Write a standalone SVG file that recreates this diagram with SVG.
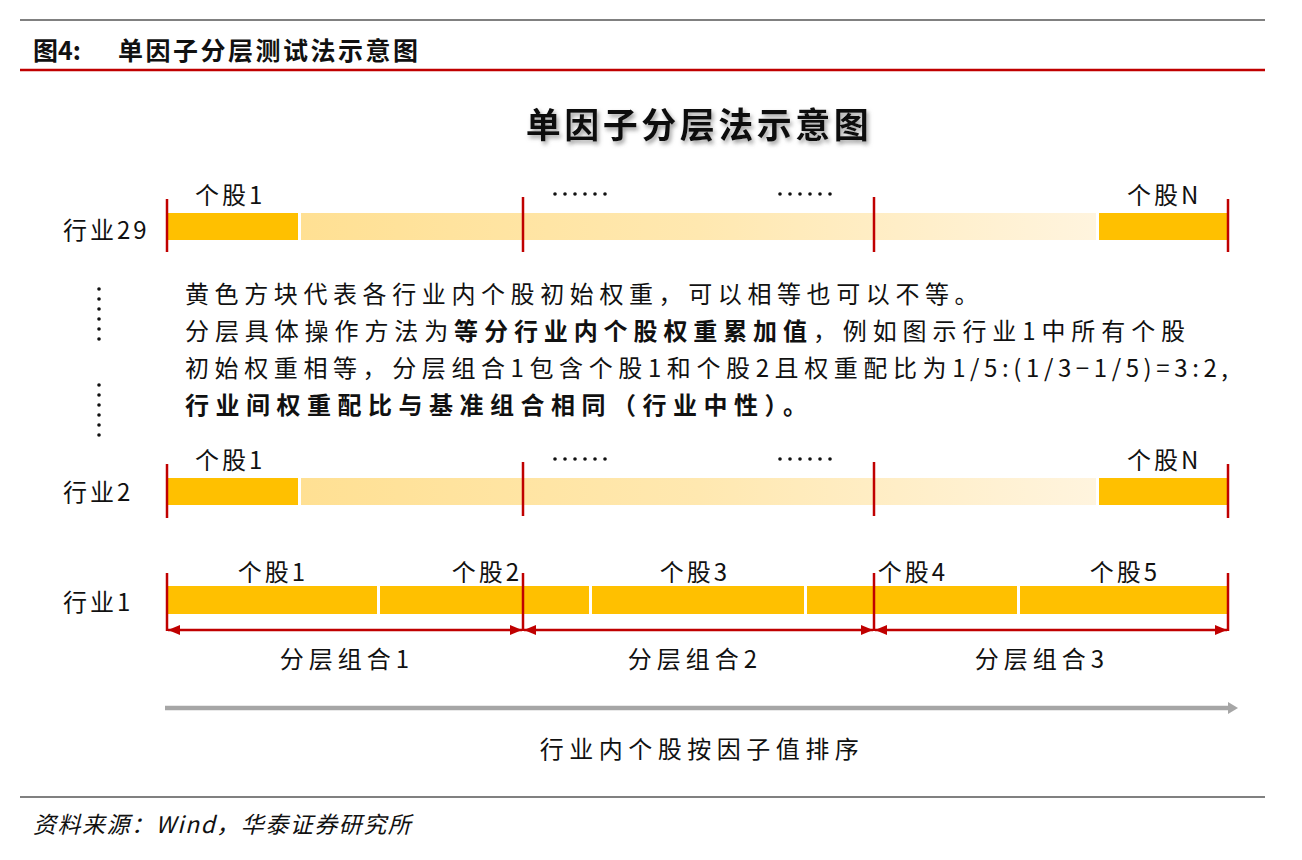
<svg xmlns="http://www.w3.org/2000/svg" width="1302" height="860" viewBox="0 0 1302 860">
<style>
.cjk{font-family:"Noto Sans CJK SC","Liberation Sans",sans-serif;fill:#111}
.lab{font-size:24px;letter-spacing:3px}
.grp{font-size:24px;letter-spacing:5px}
.para{font-size:24px;letter-spacing:5.6px}
.num{letter-spacing:4.6px}
.b{font-weight:bold}
.tick{stroke:#C00000;stroke-width:2.5}
.dark{fill:#FFC000}
.light{fill:url(#lg)}
.rarrow{stroke:#C00000;stroke-width:2.5;marker-start:url(#ah);marker-end:url(#ah)}
.dot{fill:#111}
</style>
<defs>
<linearGradient id="lg" x1="0" y1="0" x2="1" y2="0">
<stop offset="0" stop-color="#FFE093"/>
<stop offset="0.5" stop-color="#FFE8B0"/>
<stop offset="1" stop-color="#FFF4DE"/>
</linearGradient>
<marker id="ah" viewBox="0 0 12 10" refX="12" refY="5" markerWidth="12" markerHeight="10" markerUnits="userSpaceOnUse" orient="auto-start-reverse">
<path d="M0,0 L12,5 L0,10 Z" fill="#C00000"/>
</marker>
<marker id="gh" viewBox="0 0 10 12" refX="2" refY="6" markerWidth="10" markerHeight="12" markerUnits="userSpaceOnUse" orient="auto">
<path d="M0,0 L10,6 L0,12 Z" fill="#A6A6A6"/>
</marker>
<filter id="sh" x="-10%" y="-30%" width="120%" height="160%">
<feDropShadow dx="2" dy="3" stdDeviation="2" flood-color="#777" flood-opacity="0.7"/>
</filter>
<filter id="glow" x="-5%" y="-200%" width="110%" height="500%">
<feGaussianBlur stdDeviation="2.5"/>
</filter>
</defs>

<g id="header">
<line x1="20" y1="20" x2="1265" y2="20" stroke="#808080" stroke-width="2"/>
<text x="33" y="60" class="cjk b" font-size="25">图4:</text>
<text x="118" y="60" class="cjk b" font-size="25" letter-spacing="2.5">单因子分层测试法示意图</text>
<line x1="20" y1="70" x2="1265" y2="70" stroke="#C00000" stroke-width="2.5"/>
</g>

<g id="main-title">
<text x="699" y="138" text-anchor="middle" class="cjk b" font-size="35" letter-spacing="3.5" filter="url(#sh)">单因子分层法示意图</text>
</g>

<g id="row-29">
<text x="63" y="239" class="cjk lab">行业29</text>
<rect x="167" y="213" width="131" height="27" class="dark"/>
<rect x="301" y="213" width="795" height="27" class="light"/>
<rect x="1099" y="213" width="129" height="27" class="dark"/>
<text x="195" y="204" class="cjk lab">个股1</text>
<text x="1127" y="204" class="cjk lab">个股N</text>
<g class="dot">
<circle cx="555" cy="194" r="1.8"/><circle cx="565" cy="194" r="1.8"/><circle cx="575" cy="194" r="1.8"/><circle cx="585" cy="194" r="1.8"/><circle cx="595" cy="194" r="1.8"/><circle cx="605" cy="194" r="1.8"/>
<circle cx="780" cy="194" r="1.8"/><circle cx="790" cy="194" r="1.8"/><circle cx="800" cy="194" r="1.8"/><circle cx="810" cy="194" r="1.8"/><circle cx="820" cy="194" r="1.8"/><circle cx="830" cy="194" r="1.8"/>
</g>
<line x1="167" y1="199" x2="167" y2="252" class="tick"/>
<line x1="523" y1="197" x2="523" y2="252" class="tick"/>
<line x1="874" y1="197" x2="874" y2="252" class="tick"/>
<line x1="1228" y1="199" x2="1228" y2="252" class="tick"/>
</g>

<g id="vdots" class="dot">
<circle cx="99" cy="289" r="1.8"/><circle cx="99" cy="299" r="1.8"/><circle cx="99" cy="309" r="1.8"/><circle cx="99" cy="319" r="1.8"/><circle cx="99" cy="329" r="1.8"/><circle cx="99" cy="339" r="1.8"/>
<circle cx="99" cy="385" r="1.8"/><circle cx="99" cy="395" r="1.8"/><circle cx="99" cy="405" r="1.8"/><circle cx="99" cy="415" r="1.8"/><circle cx="99" cy="425" r="1.8"/><circle cx="99" cy="435" r="1.8"/>
</g>

<g id="note">
<text x="185" y="303" class="cjk para">黄色方块代表各行业内个股初始权重，可以相等也可以不等。</text>
<text x="185" y="340" class="cjk para" style="letter-spacing:5.9px">分层具体操作方法为<tspan class="b">等分行业内个股权重累加值</tspan>，例如图示行业1中所有个股</text>
<text x="185" y="377" class="cjk para">初始权重相等，分层组合1包含个股1和个股2且权重配比为<tspan class="num">1/5:(1/3−1/5)=3:2,</tspan></text>
<text x="185" y="414" class="cjk para b" style="letter-spacing:6.5px">行业间权重配比与基准组合相同（行业中性）。</text>
</g>

<g id="row-2">
<text x="63" y="501" class="cjk lab">行业2</text>
<rect x="167" y="478" width="131" height="27" class="dark"/>
<rect x="301" y="478" width="795" height="27" class="light"/>
<rect x="1099" y="478" width="129" height="27" class="dark"/>
<text x="195" y="469" class="cjk lab">个股1</text>
<text x="1127" y="469" class="cjk lab">个股N</text>
<g class="dot">
<circle cx="555" cy="459" r="1.8"/><circle cx="565" cy="459" r="1.8"/><circle cx="575" cy="459" r="1.8"/><circle cx="585" cy="459" r="1.8"/><circle cx="595" cy="459" r="1.8"/><circle cx="605" cy="459" r="1.8"/>
<circle cx="780" cy="459" r="1.8"/><circle cx="790" cy="459" r="1.8"/><circle cx="800" cy="459" r="1.8"/><circle cx="810" cy="459" r="1.8"/><circle cx="820" cy="459" r="1.8"/><circle cx="830" cy="459" r="1.8"/>
</g>
<line x1="167" y1="464" x2="167" y2="518" class="tick"/>
<line x1="523" y1="462" x2="523" y2="516" class="tick"/>
<line x1="874" y1="462" x2="874" y2="516" class="tick"/>
<line x1="1228" y1="464" x2="1228" y2="518" class="tick"/>
</g>

<g id="row-1">
<text x="63" y="611" class="cjk lab">行业1</text>
<rect x="167" y="586" width="210" height="28" class="dark"/>
<rect x="380" y="586" width="209" height="28" class="dark"/>
<rect x="592" y="586" width="212" height="28" class="dark"/>
<rect x="807" y="586" width="210" height="28" class="dark"/>
<rect x="1020" y="586" width="208" height="28" class="dark"/>
<text x="273" y="581" text-anchor="middle" class="cjk lab">个股1</text>
<text x="487" y="581" text-anchor="middle" class="cjk lab">个股2</text>
<text x="695" y="581" text-anchor="middle" class="cjk lab">个股3</text>
<text x="913" y="581" text-anchor="middle" class="cjk lab">个股4</text>
<text x="1125" y="581" text-anchor="middle" class="cjk lab">个股5</text>
<line x1="167" y1="573" x2="167" y2="631" class="tick"/>
<line x1="523" y1="573" x2="523" y2="631" class="tick"/>
<line x1="874" y1="573" x2="874" y2="631" class="tick"/>
<line x1="1228" y1="573" x2="1228" y2="631" class="tick"/>
</g>

<g id="connectors">
<line x1="168" y1="630" x2="522" y2="630" class="rarrow"/>
<line x1="524" y1="630" x2="873" y2="630" class="rarrow"/>
<line x1="875" y1="630" x2="1227" y2="630" class="rarrow"/>
<line x1="165" y1="709" x2="1232" y2="709" stroke="#C8C8C8" stroke-width="10" filter="url(#glow)"/>
<line x1="165" y1="708" x2="1230" y2="708" stroke="#A6A6A6" stroke-width="4.5" marker-end="url(#gh)"/>
</g>

<g id="groups">
<text x="347" y="668" text-anchor="middle" class="cjk grp">分层组合1</text>
<text x="695" y="668" text-anchor="middle" class="cjk grp">分层组合2</text>
<text x="1042" y="668" text-anchor="middle" class="cjk grp">分层组合3</text>
</g>

<g id="axis-label">
<text x="702" y="758" text-anchor="middle" class="cjk" font-size="24" letter-spacing="5.5">行业内个股按因子值排序</text>
</g>

<g id="footer">
<line x1="20" y1="797" x2="1265" y2="797" stroke="#808080" stroke-width="2"/>
<text x="33" y="833" class="cjk" font-size="23" font-style="italic" letter-spacing="1.5">资料来源：Wind，华泰证券研究所</text>
</g>
</svg>
